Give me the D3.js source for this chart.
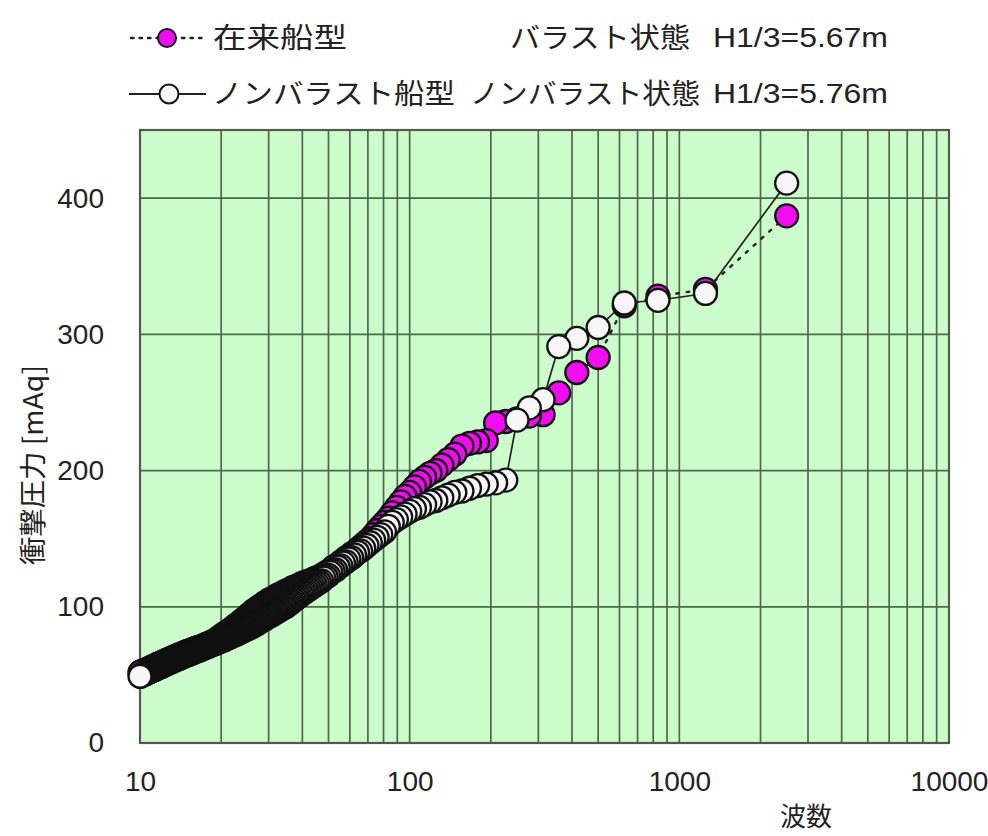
<!DOCTYPE html>
<html>
<head>
<meta charset="utf-8">
<script src="https://cdn.jsdelivr.net/npm/d3@7"></script>
<style>
  html, body { margin: 0; padding: 0; background: #ffffff; }
  svg { display: block; }
</style>
</head>
<body>
<svg id="chart" width="988" height="836"></svg>
<script>
// Total number of waves in the record; the k-th largest impact is plotted at waveTotal / k.
const waveTotal = 2500;

// Impact pressure [mAq] sorted from largest (rank 1) downward: conventional hull, ballast condition
const conventionalPressure = [
  387, 333, 328, 321, 283, 272, 257, 241, 240, 238,
  236, 235, 222, 221, 220, 218, 212, 208, 204, 200,
  198, 195, 192, 188, 184, 181, 177, 173, 169, 165,
  162, 159, 156, 153, 150, 148, 146, 144, 142, 140,
  139, 137, 136, 134, 133, 131, 130, 129, 127, 126,
  125, 124, 123, 122, 121, 121, 120, 119, 119, 118,
  118, 117, 117, 116, 115, 115, 114, 114, 113, 112,
  112, 111, 111, 110, 109, 109, 108, 108, 107, 106,
  106, 105, 105, 104, 103, 103, 102, 101, 101, 100,
  99, 99, 98, 97, 97, 96, 95, 94, 94, 93,
  92, 91, 91, 90, 89, 89, 88, 87, 87, 86,
  86, 85, 84, 84, 83, 83, 82, 82, 81, 81,
  80, 80, 79, 79, 78, 78, 77, 77, 76, 76,
  75, 75, 75, 74, 74, 74, 73, 73, 73, 73,
  72, 72, 72, 72, 71, 71, 71, 71, 70, 70,
  70, 70, 70, 69, 69, 69, 69, 69, 68, 68,
  68, 68, 68, 67, 67, 67, 67, 67, 66, 66,
  66, 66, 66, 65, 65, 65, 65, 65, 64, 64,
  64, 64, 64, 63, 63, 63, 63, 63, 62, 62,
  62, 62, 62, 61, 61, 61, 61, 61, 60, 60,
  60, 60, 60, 59, 59, 59, 59, 59, 58, 58,
  58, 58, 58, 58, 57, 57, 57, 57, 57, 56,
  56, 56, 56, 56, 56, 55, 55, 55, 55, 55,
  54, 54, 54, 54, 54, 54, 53, 53, 53, 53,
  53, 53, 53, 53, 52, 52, 52, 52, 52, 52
];

// Impact pressure [mAq] sorted from largest (rank 1) downward: non-ballast hull, non-ballast condition
const nonBallastPressure = [
  411, 330, 325, 323, 305, 297, 291, 252, 246, 237,
  193, 191, 190, 189, 187, 185, 184, 182, 180, 178,
  177, 175, 173, 172, 170, 168, 166, 164, 162, 159,
  155, 153, 151, 149, 147, 145, 143, 141, 140, 138,
  136, 135, 133, 132, 130, 129, 127, 126, 125, 123,
  122, 121, 119, 118, 117, 116, 115, 114, 113, 112,
  111, 110, 109, 108, 107, 106, 105, 104, 103, 102,
  101, 100, 100, 99, 98, 98, 97, 96, 96, 95,
  94, 94, 93, 93, 92, 91, 91, 90, 90, 89,
  88, 88, 87, 87, 86, 86, 85, 85, 84, 84,
  84, 83, 83, 82, 82, 82, 81, 81, 80, 80,
  80, 79, 79, 79, 78, 78, 78, 77, 77, 77,
  76, 76, 76, 75, 75, 75, 75, 74, 74, 74,
  73, 73, 73, 73, 72, 72, 72, 72, 71, 71,
  71, 71, 70, 70, 70, 70, 69, 69, 69, 69,
  68, 68, 68, 68, 68, 67, 67, 67, 67, 66,
  66, 66, 66, 66, 65, 65, 65, 65, 65, 64,
  64, 64, 64, 63, 63, 63, 63, 63, 62, 62,
  62, 62, 62, 61, 61, 61, 61, 61, 60, 60,
  60, 60, 60, 59, 59, 59, 59, 59, 58, 58,
  58, 58, 58, 57, 57, 57, 57, 57, 56, 56,
  56, 56, 56, 56, 55, 55, 55, 55, 55, 54,
  54, 54, 54, 54, 54, 53, 53, 53, 53, 53,
  52, 52, 52, 52, 52, 52, 51, 51, 51, 51,
  51, 51, 50, 50, 50, 50, 50, 50, 49, 49
];

const xTickValues = [10, 100, 1000, 10000];
const xTickLabels = ["10", "100", "1000", "10000"];
const yTickValues = [0, 100, 200, 300, 400];
const yTickLabels = ["0", "100", "200", "300", "400"];

const svg = d3.select("#chart");
const plot = { left: 140, right: 949, top: 130, bottom: 743 };

const x = d3.scaleLog().domain([10, 10000]).range([plot.left, plot.right]);
const y = d3.scaleLinear().domain([0, 450]).range([plot.bottom, plot.top]);

const toPoints = values => values.map((v, i) => ({ waves: waveTotal / (i + 1), p: v }));
const conventional = toPoints(conventionalPressure);
const nonBallast = toPoints(nonBallastPressure);

// Plot background
svg.append("rect")
  .attr("x", plot.left).attr("y", plot.top)
  .attr("width", plot.right - plot.left).attr("height", plot.bottom - plot.top)
  .attr("fill", "#ccfccc");

// Log grid (vertical) and value grid (horizontal)
const grid = svg.append("g").attr("stroke", "#4a6a4a").attr("stroke-width", 1.7);
grid.selectAll("line.v").data(x.ticks()).join("line")
  .attr("class", "v")
  .attr("x1", d => x(d)).attr("x2", d => x(d))
  .attr("y1", plot.top).attr("y2", plot.bottom);
grid.selectAll("line.h").data(yTickValues.filter(d => d > 0)).join("line")
  .attr("class", "h")
  .attr("x1", plot.left).attr("x2", plot.right)
  .attr("y1", d => y(d)).attr("y2", d => y(d));

// Plot frame
svg.append("rect")
  .attr("x", plot.left).attr("y", plot.top)
  .attr("width", plot.right - plot.left).attr("height", plot.bottom - plot.top)
  .attr("fill", "none").attr("stroke", "#505a50").attr("stroke-width", 2.2);

// Axes
const yAxis = svg.append("g")
  .attr("transform", `translate(${plot.left},0)`)
  .call(d3.axisLeft(y).tickValues(yTickValues).tickSize(0).tickPadding(36)
    .tickFormat((d, i) => yTickLabels[i]));
yAxis.select(".domain").remove();
yAxis.selectAll("text")
  .attr("font-family", "'Liberation Sans', Arial, sans-serif")
  .attr("font-size", 28).attr("fill", "#222");

const xAxis = svg.append("g")
  .attr("transform", `translate(0,${plot.bottom})`)
  .call(d3.axisBottom(x).tickValues(xTickValues).tickSize(0).tickPadding(28)
    .tickFormat((d, i) => xTickLabels[i]));
xAxis.select(".domain").remove();
xAxis.selectAll("text")
  .attr("font-family", "'Liberation Sans Narrow', 'Liberation Sans', Arial, sans-serif")
  .attr("font-size", 28).attr("fill", "#222");

// Axis titles
const jp = "'Noto Sans CJK JP', 'Noto Sans', sans-serif";
svg.append("text")
  .attr("transform", "translate(43,465) rotate(-90)")
  .attr("text-anchor", "middle")
  .attr("font-family", jp).attr("font-size", 27).attr("fill", "#222")
  .attr("textLength", 200).attr("lengthAdjust", "spacingAndGlyphs")
  .text("衝撃圧力 [mAq]");
svg.append("text")
  .attr("x", 806).attr("y", 826)
  .attr("text-anchor", "middle")
  .attr("font-family", jp).attr("font-size", 26).attr("fill", "#222")
  .text("波数");

const line = d3.line().x(d => x(d.waves)).y(d => y(d.p));
const R = 11.5;
const SW = 2.3;

// Conventional hull: dotted line, magenta markers
svg.append("path").datum(conventional)
  .attr("d", line).attr("fill", "none")
  .attr("stroke", "#222").attr("stroke-width", 2.4)
  .attr("stroke-dasharray", "2.5,8").attr("stroke-linecap", "round");
svg.append("g").selectAll("circle").data(conventional).join("circle")
  .attr("cx", d => x(d.waves)).attr("cy", d => y(d.p)).attr("r", R)
  .attr("fill", "#f20cf2").attr("stroke", "#111").attr("stroke-width", SW);

// Non-ballast hull: solid line, white markers
svg.append("path").datum(nonBallast)
  .attr("d", line).attr("fill", "none")
  .attr("stroke", "#222").attr("stroke-width", 1.7);
svg.append("g").selectAll("circle").data(nonBallast).join("circle")
  .attr("cx", d => x(d.waves)).attr("cy", d => y(d.p)).attr("r", R)
  .attr("fill", "#f8f6f8").attr("stroke", "#111").attr("stroke-width", SW);

// Legend
const legend = svg.append("g");
legend.append("line")
  .attr("x1", 131).attr("x2", 205).attr("y1", 38).attr("y2", 38)
  .attr("stroke", "#222").attr("stroke-width", 2.4)
  .attr("stroke-dasharray", "2.5,6").attr("stroke-linecap", "round");
legend.append("circle").attr("cx", 167).attr("cy", 38).attr("r", 9)
  .attr("fill", "#f20cf2").attr("stroke", "#111").attr("stroke-width", 2);
legend.append("line")
  .attr("x1", 129).attr("x2", 206).attr("y1", 94).attr("y2", 94)
  .attr("stroke", "#222").attr("stroke-width", 1.8);
legend.append("circle").attr("cx", 169).attr("cy", 94).attr("r", 9.5)
  .attr("fill", "#f8f6f8").attr("stroke", "#111").attr("stroke-width", 2);

const legendTexts = [
  { t: "在来船型", x: 213, y: 48, w: 134, f: jp },
  { t: "バラスト状態", x: 510, y: 48, w: 180, f: jp },
  { t: "H1/3=5.67m", x: 713, y: 47, w: 175, f: "'Liberation Sans', Arial, sans-serif" },
  { t: "ノンバラスト船型", x: 212, y: 104, w: 243, f: jp },
  { t: "ノンバラスト状態", x: 470, y: 104, w: 230, f: jp },
  { t: "H1/3=5.76m", x: 713, y: 103, w: 175, f: "'Liberation Sans', Arial, sans-serif" }
];
legend.selectAll("text").data(legendTexts).join("text")
  .attr("x", d => d.x).attr("y", d => d.y)
  .attr("font-family", d => d.f).attr("font-size", 28).attr("fill", "#222")
  .attr("textLength", d => d.w).attr("lengthAdjust", "spacingAndGlyphs")
  .text(d => d.t);
</script>
</body>
</html>
